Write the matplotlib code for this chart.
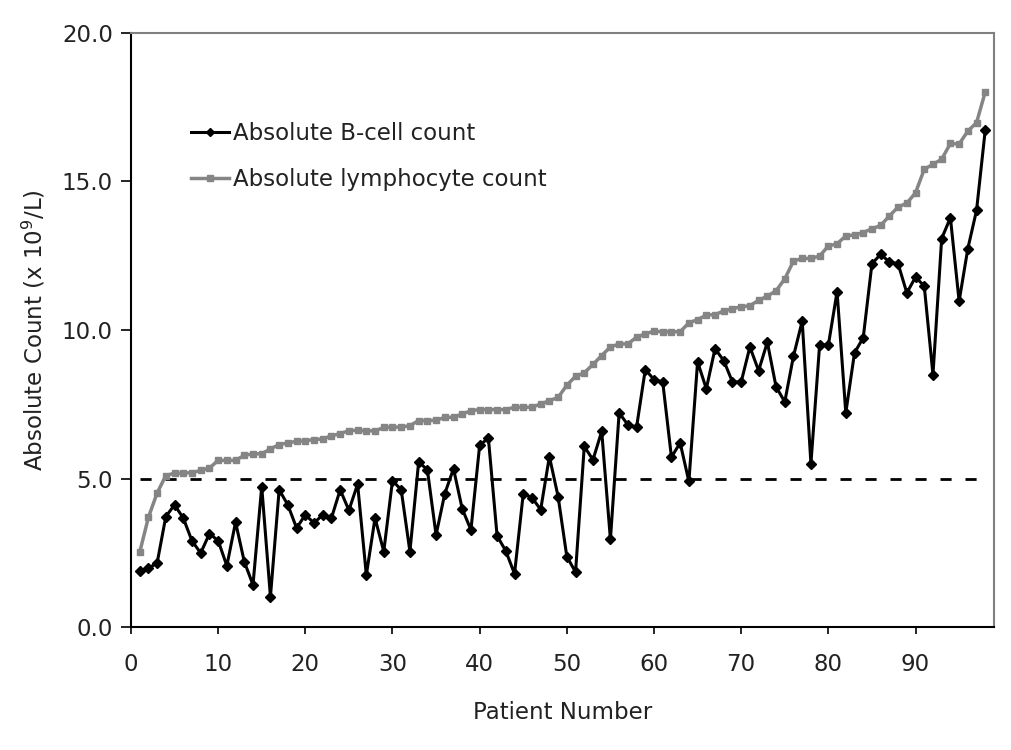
import matplotlib
matplotlib.use("Agg")
import matplotlib.pyplot as plt

plt.rcParams['font.family'] = ['DejaVu Sans']

patients = list(range(1, 99))

b_cell = [1.87, 1.98, 2.15, 3.72, 4.11, 3.67, 2.9, 2.49, 3.14, 2.91,
          2.06, 3.53, 2.2, 1.42, 4.73, 1.02, 4.62, 4.11, 3.33, 3.78,
          3.5, 3.78, 3.67, 4.62, 3.93, 4.81, 1.75, 3.67, 2.54, 4.93,
          4.62, 2.54, 5.55, 5.3, 3.1, 4.49, 5.33, 3.98, 3.27, 6.12,
          6.36, 3.07, 2.56, 1.79, 4.49, 4.36, 3.95, 5.74, 4.39, 2.37,
          1.85, 6.08, 5.63, 6.59, 2.95, 7.21, 6.81, 6.73, 8.67, 8.33,
          8.25, 5.72, 6.2, 4.9, 8.93, 8.02, 9.37, 8.97, 8.25, 8.25,
          9.43, 8.63, 9.59, 8.09, 7.58, 9.12, 10.3, 5.5, 9.51, 9.49,
          11.29, 7.21, 9.23, 9.74, 12.23, 12.55, 12.29, 12.23, 11.25, 11.78,
          11.48, 8.5, 13.08, 13.78, 10.97, 12.74, 14.03, 16.74]

lymphocyte = [2.51, 3.69, 4.51, 5.1, 5.18, 5.18, 5.2, 5.27, 5.35, 5.61,
              5.61, 5.61, 5.78, 5.83, 5.83, 6.0, 6.14, 6.2, 6.25, 6.27,
              6.31, 6.33, 6.44, 6.51, 6.61, 6.62, 6.61, 6.6, 6.72, 6.73,
              6.73, 6.78, 6.95, 6.95, 6.96, 7.06, 7.06, 7.17, 7.28, 7.32,
              7.32, 7.32, 7.32, 7.4, 7.4, 7.4, 7.51, 7.62, 7.73, 8.14,
              8.44, 8.56, 8.84, 9.14, 9.43, 9.53, 9.53, 9.76, 9.87, 9.96,
              9.94, 9.94, 9.94, 10.24, 10.35, 10.5, 10.52, 10.64, 10.72, 10.78,
              10.82, 11.0, 11.14, 11.32, 11.72, 12.32, 12.41, 12.41, 12.49, 12.83,
              12.9, 13.17, 13.2, 13.28, 13.41, 13.52, 13.84, 14.14, 14.27, 14.62,
              15.41, 15.58, 15.75, 16.28, 16.26, 16.7, 16.98, 18.02]

threshold = 5.0
threshold_x = [1, 97]

x_ticks = [0, 10, 20, 30, 40, 50, 60, 70, 80, 90]
y_ticks = [0, 5, 10, 15, 20]
y_tick_labels = ["0.0", "5.0", "10.0", "15.0", "20.0"]

FS = 16.5

fig = plt.figure(figsize=(10.12, 7.5), dpi=100)
ax = fig.add_axes([0.1294, 0.164, 0.8528, 0.792])

ax.plot(threshold_x, [threshold, threshold], color='black', lw=2.0,
        linestyle=(0, (4, 5)), zorder=1)
ax.plot(patients, lymphocyte, color='#858585', lw=2.5, marker='s',
        markersize=5, label='Absolute lymphocyte count', zorder=2)
ax.plot(patients, b_cell, color='black', lw=2.2, marker='D',
        markersize=5, label='Absolute B-cell count', zorder=3)

ax.set_xlim(0, 99)
ax.set_ylim(0, 20)
ax.set_xticks(x_ticks)
ax.set_yticks(y_ticks)
ax.set_yticklabels(y_tick_labels)
ax.tick_params(axis='both', labelsize=FS, colors='#222222', direction='out')
ax.tick_params(axis='x', length=5, width=1.2, pad=14, color='black')
ax.tick_params(axis='y', length=7, width=1.2, pad=6, color='black')

for s in ['left', 'bottom']:
    ax.spines[s].set_color('black')
    ax.spines[s].set_linewidth(1.5)
for s in ['top', 'right']:
    ax.spines[s].set_color('#808080')
    ax.spines[s].set_linewidth(1.5)

ax.set_xlabel('Patient Number', fontsize=FS, labelpad=18, color='#222222')
ax.set_ylabel('Absolute Count (x 10$^{9}$/L)', fontsize=FS, labelpad=10,
              color='#222222')

handles, labels = ax.get_legend_handles_labels()
leg = ax.legend(handles[::-1], labels[::-1], loc='upper left',
                bbox_to_anchor=(0.046, 0.885), frameon=False, fontsize=FS,
                handlelength=1.65, handletextpad=0.17, labelspacing=1.0,
                markerscale=0.8)
for t in leg.get_texts():
    t.set_color('#222222')

fig.savefig('out.png', dpi=100, facecolor='white')
